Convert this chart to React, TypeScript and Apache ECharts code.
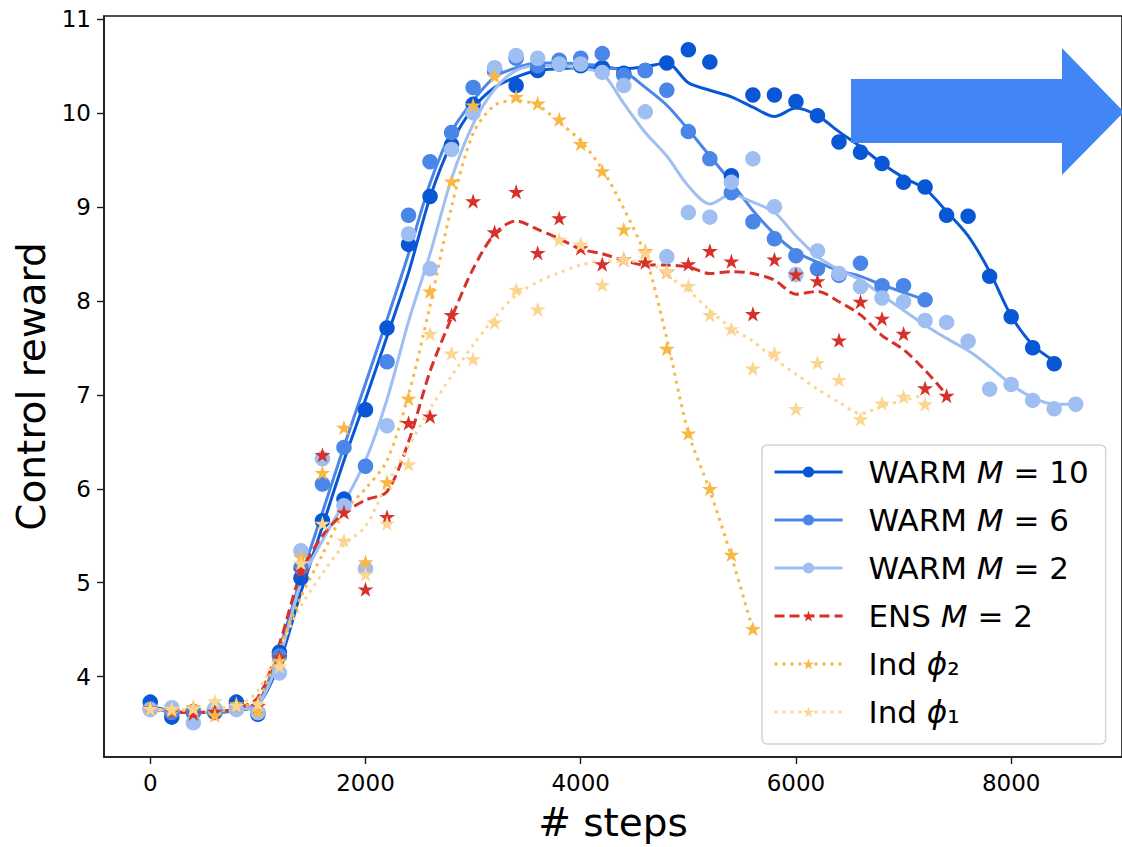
import React, { useEffect, useRef } from "react";
import * as echarts from "echarts";

const steps = [0, 200, 400, 600, 800, 1000, 1200, 1400, 1600, 1800, 2000, 2200, 2400, 2600, 2800, 3000, 3200, 3400, 3600, 3800, 4000, 4200, 4400, 4600, 4800, 5000, 5200, 5400, 5600, 5800, 6000, 6200, 6400, 6600, 6800, 7000, 7200, 7400, 7600, 7800, 8000, 8200, 8400, 8600];

const xTicks = [0, 2000, 4000, 6000, 8000];
const yTicks = [4, 5, 6, 7, 8, 9, 10, 11];

// WARM M=10
const warm10Raw = [3.73, 3.57, 3.62, 3.62, 3.73, 3.60, 4.26, 5.05, 5.66, 5.89, 6.84, 7.71, 8.60, 9.11, 9.66, 10.09, 10.45, 10.29, 10.45, 10.52, 10.50, 10.48, 10.42, 10.45, 10.53, 10.67, 10.54, 9.33, 10.19, 10.19, 10.12, 9.97, 9.69, 9.58, 9.46, 9.26, 9.21, 8.91, 8.90, 8.26, 7.83, 7.50, 7.33];
const warm10Line = [3.68, 3.64, 3.62, 3.62, 3.64, 3.70, 4.15, 4.90, 5.60, 6.30, 6.95, 7.62, 8.30, 9.10, 9.68, 10.05, 10.27, 10.38, 10.45, 10.47, 10.48, 10.48, 10.47, 10.49, 10.53, 10.32, 10.24, 10.17, 10.06, 9.96, 10.05, 9.97, 9.80, 9.64, 9.46, 9.31, 9.19, 8.95, 8.69, 8.31, 7.84, 7.53, 7.36];

// WARM M=6
const warm6Raw = [3.66, 3.62, 3.63, 3.64, 3.66, 3.62, 4.22, 5.16, 6.05, 6.44, 6.24, 7.35, 8.91, 9.48, 9.79, 10.27, 10.45, 10.58, 10.50, 10.56, 10.58, 10.63, 10.40, 10.45, 10.24, 9.80, 9.51, 9.15, 8.84, 8.66, 8.48, 8.34, 8.27, 8.40, 8.16, 8.16, 8.01];
const warm6Line = [3.66, 3.63, 3.62, 3.62, 3.65, 3.72, 4.30, 5.05, 5.75, 6.45, 7.12, 7.80, 8.50, 9.25, 9.80, 10.13, 10.38, 10.48, 10.53, 10.53, 10.52, 10.50, 10.44, 10.27, 10.08, 9.82, 9.54, 9.26, 8.96, 8.71, 8.52, 8.41, 8.32, 8.26, 8.17, 8.09, 8.01];

// WARM M=2
const warm2Raw = [3.65, 3.67, 3.51, 3.66, 3.65, 3.62, 4.04, 5.34, 6.32, 5.82, 5.15, 6.67, 8.71, 8.34, 9.61, 10.00, 10.48, 10.61, 10.58, 10.52, 10.52, 10.43, 10.29, 10.01, 8.47, 8.94, 8.89, 9.26, 9.51, 9.00, 8.28, 8.53, 8.29, 8.15, 8.03, 7.99, 7.79, 7.77, 7.57, 7.06, 7.11, 6.94, 6.85, 6.90];
const warm2Line = [3.66, 3.64, 3.62, 3.63, 3.65, 3.70, 4.20, 5.00, 5.45, 5.85, 6.30, 6.95, 7.78, 8.50, 9.30, 9.88, 10.25, 10.45, 10.50, 10.50, 10.47, 10.42, 10.10, 9.79, 9.54, 9.22, 9.03, 9.13, 9.05, 8.94, 8.69, 8.47, 8.33, 8.22, 8.06, 7.90, 7.74, 7.60, 7.47, 7.30, 7.11, 6.97, 6.90, 6.90];

// ENS M=2
const ensRaw = [3.66, 3.62, 3.60, 3.62, 3.68, 3.68, 4.20, 5.12, 6.35, 5.74, 4.92, 5.69, 6.69, 6.76, 7.84, 9.05, 8.72, 9.15, 8.50, 8.87, 8.55, 8.38, 8.43, 8.40, 8.30, 8.38, 8.52, 8.41, 7.85, 8.43, 8.27, 8.20, 7.57, 7.98, 7.80, 7.64, 7.06, 6.98];
const ensLine = [3.66, 3.62, 3.62, 3.63, 3.66, 3.78, 4.35, 5.10, 5.50, 5.74, 5.88, 5.97, 6.50, 7.25, 7.82, 8.34, 8.71, 8.85, 8.76, 8.66, 8.55, 8.50, 8.43, 8.38, 8.38, 8.36, 8.29, 8.31, 8.29, 8.22, 8.07, 8.10, 7.99, 7.85, 7.63, 7.48, 7.26, 7.00];

// Ind phi2
const phi2Raw = [3.65, 3.63, 3.67, 3.58, 3.70, 3.62, 4.16, 5.26, 6.16, 6.64, 5.21, 6.06, 6.95, 8.09, 9.26, 10.07, 10.38, 10.16, 10.09, 9.92, 9.66, 9.37, 8.75, 8.52, 7.48, 6.58, 5.99, 5.29, 4.50];
const phi2Line = [3.65, 3.64, 3.64, 3.64, 3.67, 3.75, 4.30, 4.85, 5.30, 5.75, 6.00, 6.30, 7.00, 7.95, 9.00, 9.78, 10.08, 10.13, 10.08, 9.90, 9.70, 9.40, 8.98, 8.48, 7.60, 6.60, 5.98, 5.28, 4.50];

// Ind phi1
const phi1Raw = [3.65, 3.65, 3.65, 3.73, 3.68, 3.70, 4.10, 5.20, 5.62, 5.44, 5.08, 5.62, 6.25, 7.64, 7.43, 7.37, 7.76, 8.11, 7.90, 8.64, 8.59, 8.16, 8.43, 8.50, 8.30, 8.15, 7.84, 7.69, 7.27, 7.43, 6.84, 7.33, 7.15, 6.73, 6.90, 6.97, 6.89];
const phi1Line = [3.65, 3.65, 3.66, 3.67, 3.69, 3.85, 4.30, 4.75, 5.10, 5.40, 5.60, 6.05, 6.45, 6.85, 7.20, 7.53, 7.82, 8.06, 8.20, 8.30, 8.38, 8.42, 8.42, 8.42, 8.27, 8.11, 7.90, 7.71, 7.57, 7.38, 7.22, 7.06, 6.92, 6.80, 6.88, 6.94, 7.00];

const seriesNames = ["WARM M=10", "WARM M=6", "WARM M=2", "ENS M=2", "Ind phi2", "Ind phi1"];
const legendLabels = [
  "{n|WARM }{i|M}{n| = 10}",
  "{n|WARM }{i|M}{n| = 6}",
  "{n|WARM }{i|M}{n| = 2}",
  "{n|ENS }{i|M}{n| = 2}",
  "{n|Ind }{i|ϕ}{n|₂}",
  "{n|Ind }{i|ϕ}{n|₁}",
];

const STAR = "path://M0,-100L22.45,-30.9L95.1,-30.9L36.33,11.8L58.78,80.9L0,38.2L-58.78,80.9L-36.33,11.8L-95.1,-30.9L-22.45,-30.9Z";
const FONT = "DejaVu Sans";

const pairs = (vals: number[]) => vals.map((v, i) => [steps[i], v]);

export default function App() {
  const ref = useRef<HTMLDivElement>(null);
  useEffect(() => {
    if (!ref.current) return;
    const chart = echarts.init(ref.current, null, { renderer: "svg" });
    const defs = [
      { raw: warm10Raw, line: warm10Line, color: "#0a57d6", symbol: "circle", dash: "solid" as any },
      { raw: warm6Raw, line: warm6Line, color: "#4a86e8", symbol: "circle", dash: "solid" as any },
      { raw: warm2Raw, line: warm2Line, color: "#9fbff3", symbol: "circle", dash: "solid" as any },
      { raw: ensRaw, line: ensLine, color: "#d7322a", symbol: STAR, dash: [10, 5] },
      { raw: phi2Raw, line: phi2Line, color: "#f9b843", symbol: STAR, dash: [3, 5] },
      { raw: phi1Raw, line: phi1Line, color: "#fcd590", symbol: STAR, dash: [3, 5] },
    ];
    const series: any[] = [];
    defs.forEach((d, k) => {
      const isStar = d.symbol !== "circle";
      series.push({
        type: "line",
        name: seriesNames[k],
        data: pairs(d.line),
        showSymbol: false,
        symbol: d.symbol,
        smooth: 0.3,
        lineStyle: { color: d.color, width: 3, type: d.dash, cap: "butt" },
        itemStyle: { color: d.color },
        z: 2,
      });
      series.push({
        type: "scatter",
        name: seriesNames[k],
        data: pairs(d.raw),
        symbol: d.symbol,
        symbolSize: isStar ? [16, 15.2] : 15.5,
        symbolOffset: isStar ? [0, -1] : [0, 0],
        itemStyle: { color: d.color, opacity: 1 },
        z: 2,
      });
    });

    chart.setOption({
      animation: false,
      grid: { left: 104, top: 16, width: 1024, height: 747, show: true, borderColor: "#1a1a1a", borderWidth: 1.6, backgroundColor: "transparent" },
      xAxis: {
        type: "value",
        min: -430,
        max: 9030,
        name: "# steps",
        nameLocation: "middle",
        nameGap: 46,
        nameTextStyle: { fontFamily: FONT, fontSize: 39, color: "#000" },
        axisLine: { show: true, onZero: false, lineStyle: { color: "#1a1a1a", width: 1.6 } },
        axisTick: { show: true, customValues: xTicks, length: 7, lineStyle: { color: "#1a1a1a", width: 1.4 } },
        axisLabel: { customValues: xTicks, fontFamily: FONT, fontSize: 23, color: "#000", margin: 14, formatter: (v: number) => String(v) },
        splitLine: { show: false },
      },
      yAxis: {
        type: "value",
        min: 3.146,
        max: 11.03,
        name: "Control reward",
        nameLocation: "middle",
        nameGap: 50,
        nameRotate: 90,
        nameTextStyle: { fontFamily: FONT, fontSize: 39, color: "#000" },
        axisLine: { show: true, onZero: false, lineStyle: { color: "#1a1a1a", width: 1.6 } },
        axisTick: { show: true, customValues: yTicks, length: 7, lineStyle: { color: "#1a1a1a", width: 1.4 } },
        axisLabel: { customValues: yTicks, fontFamily: FONT, fontSize: 23, color: "#000", margin: 13, formatter: (v: number) => String(v) },
        splitLine: { show: false },
      },
      legend: {
        orient: "vertical",
        left: 762,
        top: 445,
        data: seriesNames,
        itemWidth: 68,
        itemHeight: 14,
        itemGap: 14,
        padding: [10, 17, 15, 11],
        backgroundColor: "#ffffff",
        borderColor: "#d4d4d4",
        borderWidth: 1.5,
        borderRadius: 5,
        selectedMode: false,
        lineStyle: { width: 3 },
        formatter: (name: string) => legendLabels[seriesNames.indexOf(name)],
        textStyle: {
          fontFamily: FONT,
          fontSize: 31,
          color: "#000",
          lineHeight: 34,
          padding: [0, 0, 0, 21],
          rich: {
            n: { fontFamily: FONT, fontSize: 31, color: "#000", lineHeight: 34 },
            i: { fontFamily: FONT, fontSize: 31, color: "#000", fontStyle: "italic", lineHeight: 34 },
          },
        },
      },
      graphic: [
        {
          type: "polygon",
          z: 100,
          shape: { points: [[851, 79], [1062, 79], [1062, 48], [1124, 112], [1062, 175], [1062, 143], [851, 143]] },
          style: { fill: "#4285f4" },
        },
      ],
      series,
    });
    return () => chart.dispose();
  }, []);
  return <div ref={ref} style={{ position: "absolute", left: 0, top: 0, width: 1122, height: 847, background: "#fff" }} />;
}
